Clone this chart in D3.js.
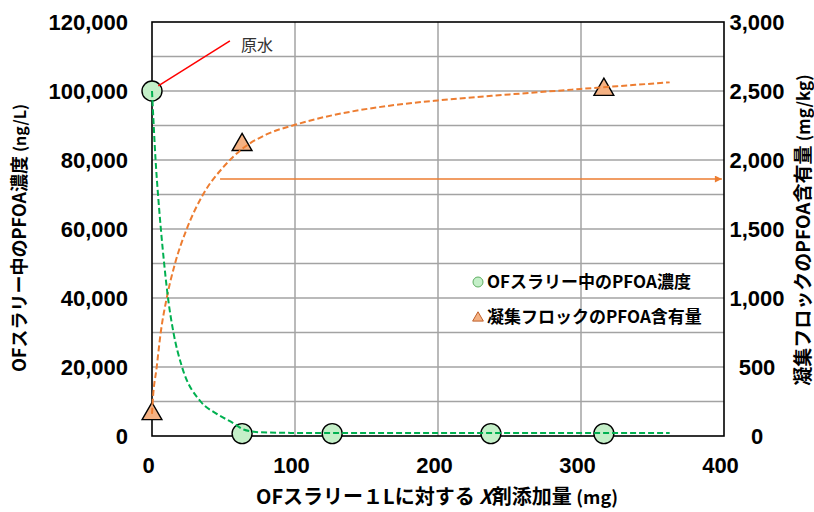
<!DOCTYPE html>
<html>
<head>
<meta charset="utf-8">
<script src="https://cdn.jsdelivr.net/npm/d3@7"></script>
<style>
  body { margin: 0; background: #fff; }
  svg { display: block; }
  .tick text { font-family: "Liberation Sans Narrow", "Arial Narrow", Arial, sans-serif; font-weight: bold; font-size: 22px; fill: #000; }
  .jp { font-family: "Liberation Sans Narrow", "Noto Sans CJK JP", sans-serif; font-weight: bold; fill: #000; }
</style>
</head>
<body>
<svg id="chart" width="814" height="512"></svg>
<script>
// Measured PFOA in the OF slurry (ng/L) versus dose of agent X (mg per 1 L slurry)
const slurryDose = [0, 63, 126, 237, 316];
const slurryPFOA = [100000, 700, 700, 700, 700];

// PFOA content of the coagulated floc (mg/kg)
const flocDose = [0, 63, 316];
const flocPFOA = [160, 2110, 2510];

// Fitted trend curves (dashed)
const slurryTrendDose = [0, 1.2, 2.5, 4.2, 6.2, 8.5, 11.2, 15, 21, 34, 45, 57, 64, 75, 100, 200, 362];
const slurryTrendPFOA = [100000, 90000, 80000, 70000, 60000, 50000, 40000, 30000, 20000, 10000, 6500, 3700, 1900, 1100, 900, 850, 850];
const flocTrendDose = [0, 0.5, 3.3, 6.1, 10.3, 16.1, 24.3, 35.7, 50, 63, 80, 100, 120, 140, 165, 200, 250, 300, 362];
const flocTrendPFOA = [160, 250, 500, 750, 1000, 1250, 1500, 1750, 1950, 2080, 2185, 2255, 2310, 2352, 2392, 2432, 2475, 2515, 2563];

// Axis ticks
const xTicks = [0, 100, 200, 300, 400];
const leftTicks = [0, 20000, 40000, 60000, 80000, 100000, 120000];
const rightTicks = [0, 500, 1000, 1500, 2000, 2500, 3000];
const leftGrid = [10000, 20000, 30000, 40000, 50000, 60000, 70000, 80000, 90000, 100000, 110000];
const xGrid = [100, 200, 300];

// Annotations: raw-water callout and the arrow pointing to the right axis
const calloutFrom = [4.4, 101500];
const calloutTo = [54.5, 114500];
const calloutText = "原水";
const arrowFrom = [47.6, 1862];
const arrowTo = [398.5, 1862];

const legendItems = ["OFスラリー中のPFOA濃度", "凝集フロックのPFOA含有量"];

const svg = d3.select("#chart");
const L = 152, T = 22, R = 724, B = 436;

const x = d3.scaleLinear().domain([0, 400]).range([L, R]);
const yL = d3.scaleLinear().domain([0, 120000]).range([B, T]);
const yR = d3.scaleLinear().domain([0, 3000]).range([B, T]);

// gridlines
svg.append("g").selectAll("line").data(leftGrid).join("line")
  .attr("x1", L).attr("x2", R)
  .attr("y1", d => yL(d)).attr("y2", d => yL(d))
  .attr("stroke", "#a3a3a3").attr("stroke-width", 1.5);
svg.append("g").selectAll("line").data(xGrid).join("line")
  .attr("y1", T).attr("y2", B)
  .attr("x1", d => x(d)).attr("x2", d => x(d))
  .attr("stroke", "#a3a3a3").attr("stroke-width", 1.5);

// plot frame
svg.append("rect").attr("x", L).attr("y", T).attr("width", R - L).attr("height", B - T)
  .attr("fill", "none").attr("stroke", "#000").attr("stroke-width", 1.6);

// axes
const fmt = d3.format(",");
const axL = svg.append("g").attr("transform", `translate(${L},0)`)
  .call(d3.axisLeft(yL).tickValues(leftTicks).tickFormat(fmt).tickSize(0).tickPadding(24));
axL.select(".domain").remove();
axL.selectAll("text").attr("dy", "0.36em");

const axR = svg.append("g").attr("transform", `translate(${R},0)`)
  .call(d3.axisRight(yR).tickValues(rightTicks).tickFormat(fmt).tickSize(0).tickPadding(33));
axR.select(".domain").remove();
axR.selectAll("text").attr("text-anchor", "middle").attr("dy", "0.36em");

const axB = svg.append("g").attr("transform", `translate(-4,${B})`)
  .call(d3.axisBottom(x).tickValues(xTicks).tickFormat(d3.format("d")).tickSize(0).tickPadding(21));
axB.select(".domain").remove();
axB.selectAll("text").attr("dy", "0.71em");

// markers
const circlePts = slurryDose.map((d, i) => [d, slurryPFOA[i]]);
const triPts = flocDose.map((d, i) => [d, flocPFOA[i]]);

svg.append("g").selectAll("circle").data(circlePts).join("circle")
  .attr("cx", d => x(d[0])).attr("cy", d => yL(d[1])).attr("r", 10)
  .attr("fill", "#c4efc8").attr("stroke", "#000").attr("stroke-width", 1.4);

const tri = d3.symbol().type(d3.symbolTriangle).size(170);
svg.append("g").selectAll("path").data(triPts).join("path")
  .attr("transform", d => `translate(${x(d[0])},${yR(d[1])})`)
  .attr("d", tri)
  .attr("fill", "#f4b183").attr("stroke", "#000").attr("stroke-width", 1.4);

// trend curves
const slurryTrend = slurryTrendDose.map((d, i) => [d, slurryTrendPFOA[i]]);
const flocTrend = flocTrendDose.map((d, i) => [d, flocTrendPFOA[i]]);

svg.append("path").datum(flocTrend)
  .attr("d", d3.line().x(d => x(d[0])).y(d => yR(d[1])).curve(d3.curveMonotoneX))
  .attr("fill", "none").attr("stroke", "#ed7d31").attr("stroke-width", 2)
  .attr("stroke-dasharray", "6,3");

svg.append("path").datum(slurryTrend)
  .attr("d", d3.line().x(d => x(d[0])).y(d => yL(d[1])).curve(d3.curveMonotoneX))
  .attr("fill", "none").attr("stroke", "#00b050").attr("stroke-width", 2)
  .attr("stroke-dasharray", "6,3");

// arrow toward the right-hand axis
svg.append("defs").append("marker")
  .attr("id", "arrowHead").attr("viewBox", "0 0 10 10")
  .attr("refX", 10).attr("refY", 5)
  .attr("markerWidth", 8).attr("markerHeight", 7)
  .attr("markerUnits", "userSpaceOnUse").attr("orient", "auto")
  .append("path").attr("d", "M0,0L10,5L0,10z").attr("fill", "#ed7d31");
svg.append("line")
  .attr("x1", x(arrowFrom[0])).attr("y1", yR(arrowFrom[1]))
  .attr("x2", x(arrowTo[0])).attr("y2", yR(arrowTo[1]))
  .attr("stroke", "#ed7d31").attr("stroke-width", 1.5)
  .attr("marker-end", "url(#arrowHead)");

// raw-water callout
svg.append("line")
  .attr("x1", x(calloutFrom[0])).attr("y1", yL(calloutFrom[1]))
  .attr("x2", x(calloutTo[0])).attr("y2", yL(calloutTo[1]))
  .attr("stroke", "#ff0000").attr("stroke-width", 1.5);
svg.append("text")
  .attr("x", x(calloutTo[0]) + 11).attr("y", yL(calloutTo[1]) + 4)
  .attr("dy", "0.35em")
  .attr("font-family", "'Noto Sans CJK JP', sans-serif").attr("font-size", 16)
  .attr("fill", "#333").text(calloutText);

// legend
const lg = svg.append("g").attr("transform", "translate(478,282)");
lg.append("circle").attr("cx", 0).attr("cy", 0).attr("r", 5)
  .attr("fill", "#c4efc8").attr("stroke", "#5fae63").attr("stroke-width", 1);
lg.append("path").attr("transform", "translate(0,36)")
  .attr("d", d3.symbol().type(d3.symbolTriangle).size(50))
  .attr("fill", "#f4b183").attr("stroke", "#c0602a").attr("stroke-width", 1);
lg.selectAll("text.item").data(legendItems).join("text")
  .attr("class", "jp item")
  .attr("x", 9).attr("y", (d, i) => i * 35)
  .attr("dy", "0.36em").attr("font-size", 17)
  .text(d => d);

// axis titles
const xt = svg.append("text").attr("class", "jp")
  .attr("x", 437).attr("y", 497).attr("dy", "0.36em")
  .attr("text-anchor", "middle").attr("font-size", 20);
xt.append("tspan").text("OFスラリー１Lに対する ");
xt.append("tspan").attr("font-style", "italic").text("X");
xt.append("tspan").text("剤添加量 ");
xt.append("tspan").attr("font-size", 18).text("(mg)");

const yt = svg.append("text").attr("class", "jp")
  .attr("transform", "translate(20,238) rotate(-90)")
  .attr("dy", "0.36em").attr("text-anchor", "middle").attr("font-size", 18);
yt.append("tspan").text("OFスラリー中のPFOA濃度 ");
yt.append("tspan").attr("font-size", 16).text("(ng/L)");

const yt2 = svg.append("text").attr("class", "jp")
  .attr("transform", "translate(803,230) rotate(-90)")
  .attr("dy", "0.36em").attr("text-anchor", "middle").attr("font-size", 19);
yt2.append("tspan").text("凝集フロックのPFOA含有量 ");
yt2.append("tspan").attr("font-size", 17).text("(mg/kg)");
</script>
</body>
</html>
